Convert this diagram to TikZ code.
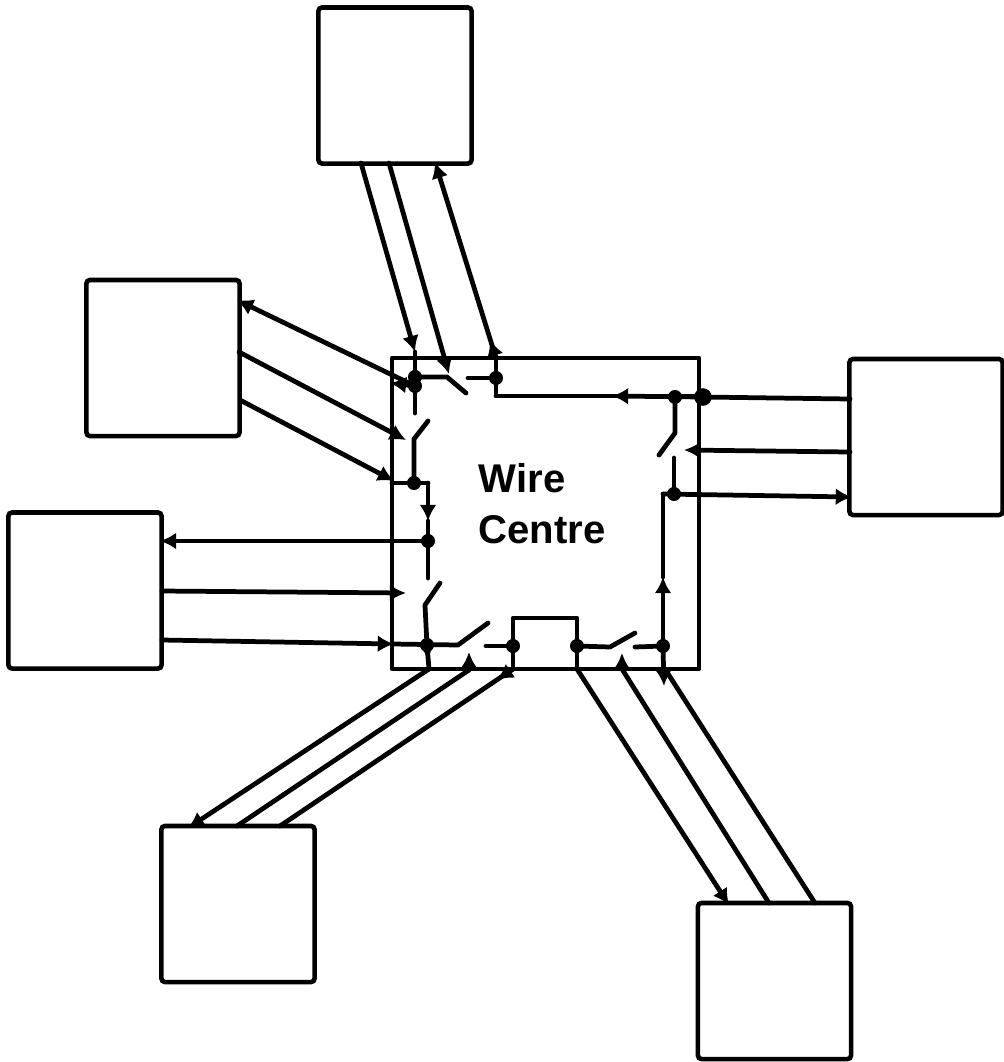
\documentclass[tikz,border=0pt]{standalone}
\usepackage{fontspec}
\setsansfont{Liberation Sans}
\usepackage{tikz}
\usetikzlibrary{arrows.meta}
\tikzset{
  unit/.style={draw, line width=1.3pt, rounded corners=1pt, minimum width=1.53cm, minimum height=1.56cm, inner sep=0pt},
  wire/.style={line width=1.35pt, line cap=round, line join=round},
  tipped/.style={wire, -{Latex[length=4.6pt,width=4.8pt]}},
  joint/.style={circle, fill=black, inner sep=0pt, minimum size=4pt},
  title/.style={font=\sffamily\bfseries\fontsize{11.4pt}{13pt}\selectfont, inner sep=0pt},
}
\begin{document}
\begin{tikzpicture}[x=0.01cm, y=-0.01cm]
            \useasboundingbox (0,0) rectangle (1004,1062);

            % Outer units
            \node[unit] (topunit) at (395,85.5) {};
            \node[unit] (leftup) at (163,358) {};
            \node[unit] (leftlow) at (85,590.5) {};
            \node[unit] (rightunit) at (926,437) {};
            \node[unit] (lowleft) at (238,904) {};
            \node[unit] (lowright) at (774.5,981) {};

            % Wire centre outline
            \coordinate (nw) at (392,358);
            \coordinate (ne) at (699,358);
            \coordinate (se) at (699,669);
            \coordinate (sw) at (392,669);
            \coordinate (stepa) at (496,358);
            \coordinate (stepb) at (496,396);
            \coordinate (stepc) at (699,396);
            \coordinate (notcha) at (513,669);
            \coordinate (notchb) at (513,618);
            \coordinate (notchc) at (577,618);
            \coordinate (notchd) at (577,669);
            \draw[wire] (nw) -- (ne) -- (se) -- (sw) -- cycle;
            \draw[wire] (stepa) -- (stepb) -- (stepc);
            \draw[wire] (notcha) -- (notchb) -- (notchc) -- (notchd);

            \node[title] (wirelabel) at (522,478) {Wire};
            \node[title] (centrelabel) at (542,530) {Centre};

            % Top unit links
            \coordinate (ta) at (361,163);
            \coordinate (tb) at (389,163);
            \coordinate (tc) at (435,162);
            \coordinate (taend) at (415,352);
            \coordinate (tbend) at (449,374);
            \coordinate (tcmid) at (490,340);
            \coordinate (tarm) at (415,377);
            \coordinate (tstop) at (415,413);
            \coordinate (thinge) at (447,377);
            \coordinate (tlever) at (466,393);
            \coordinate (tcontact) at (468,378);
            \coordinate (tjoin) at (496,378);
            \draw[tipped] (ta) -- (taend);
            \draw[wire] (taend) -- (tstop);
            \draw[tipped] (tb) -- (tbend);
            \draw[tipped] (stepa) -- (tc);
            \draw[tipped] (stepa) -- (tcmid);
            \draw[wire] (tarm) -- (thinge) -- (tlever);
            \draw[wire] (tcontact) -- (tjoin);
            \node[joint] (tarmdot) at (tarm) {};
            \node[joint] (tjoindot) at (tjoin) {};

            % Upper left unit links
            \coordinate (ua) at (237,300);
            \coordinate (ub) at (239,352);
            \coordinate (uc) at (240,400);
            \coordinate (uajoin) at (415,386);
            \coordinate (uamid) at (390,383);
            \coordinate (ubend) at (406,440);
            \coordinate (ucend) at (394,481);
            \coordinate (ularm) at (428,421);
            \coordinate (ulbend) at (414,439);
            \coordinate (uljoin) at (414,483);
            \coordinate (ulcorner) at (428,483);
            \coordinate (ulmid) at (428,521);
            \coordinate (ulstop) at (428,578);
            \draw[tipped] (uajoin) -- (ua);
            \draw[tipped] (uajoin) -- (uamid);
            \draw[tipped] (ub) -- (ubend);
            \draw[tipped] (uc) -- (ucend);
            \draw[wire] (ularm) -- (ulbend) -- (uljoin);
            \draw[wire] (392,483) -- (ulcorner);
            \draw[tipped] (ulcorner) -- (ulmid);
            \draw[wire] (ulmid) -- (ulstop);
            \node[joint] (uajoindot) at (uajoin) {};
            \node[joint] (uljoindot) at (uljoin) {};

            % Lower left unit links
            \coordinate (la) at (160,541);
            \coordinate (lb) at (162,591);
            \coordinate (lc) at (162,640);
            \coordinate (lajoin) at (428,541);
            \coordinate (lbend) at (406,593);
            \coordinate (lcend) at (394,644);
            \coordinate (llarm) at (440,583);
            \coordinate (llbend) at (425,605);
            \coordinate (lljoin) at (427,645);
            \coordinate (llhinge) at (458,645);
            \coordinate (lllever) at (488,623);
            \coordinate (llcontact) at (486,646);
            \coordinate (lljoinb) at (513,646);
            \draw[tipped] (lajoin) -- (la);
            \draw[tipped] (lb) -- (lbend);
            \draw[tipped] (lc) -- (lcend);
            \draw[wire] (llarm) -- (llbend) -- (lljoin);
            \draw[wire] (lcend) -- (llhinge) -- (lllever);
            \draw[wire] (llcontact) -- (lljoinb);
            \node[joint] (lajoindot) at (lajoin) {};
            \node[joint] (lljoindot) at (lljoin) {};
            \node[joint] (lljoinbdot) at (lljoinb) {};

            % Bottom left unit links
            \coordinate (ba) at (188,828);
            \coordinate (bb) at (237,826);
            \coordinate (bc) at (280,826);
            \coordinate (bastart) at (429,669);
            \coordinate (bbend) at (469,652);
            \coordinate (bbbend) at (469,670);
            \coordinate (bcin) at (513,669);
            \coordinate (bcmid) at (497,680);
            \draw[wire] (lljoin) -- (bastart);
            \draw[tipped] (bastart) -- (ba);
            \draw[tipped] (lljoin) -- (428,660);
            \draw[wire] (bb) -- (bbbend);
            \draw[tipped] (bbbend) -- (bbend);
            \draw[wire] (bc) -- (bcin);
            \draw[tipped] (bcin) -- (bcmid);

            % Bottom right unit links
            \coordinate (ra) at (729,905);
            \coordinate (rb) at (769,903);
            \coordinate (rc) at (815,903);
            \coordinate (rajoin) at (577,646);
            \coordinate (rbbend) at (622,669);
            \coordinate (rbend) at (622,653);
            \coordinate (rcin) at (665,669);
            \coordinate (rcmid) at (664,686);
            \coordinate (rrjoin) at (663,646);
            \coordinate (rrhinge) at (610,647);
            \coordinate (rrlever) at (635,633);
            \coordinate (rrcontact) at (635,647);
            \draw[tipped] (notchd) -- (ra);
            \draw[wire] (rb) -- (rbbend);
            \draw[tipped] (rbbend) -- (rbend);
            \draw[wire] (rc) -- (rcin);
            \draw[tipped] (rrjoin) -- (rcmid);
            \draw[wire] (rajoin) -- (rrhinge) -- (rrlever);
            \draw[wire] (rrcontact) -- (rrjoin);
            \node[joint] (rajoindot) at (rajoin) {};
            \node[joint] (rrjoindot) at (rrjoin) {};

            % Right unit links
            \coordinate (ea) at (850,399);
            \coordinate (eb) at (850,452);
            \coordinate (ec) at (852,497);
            \coordinate (eajoin) at (703,397);
            \coordinate (eamid) at (612,396);
            \coordinate (eajoinb) at (675,397);
            \coordinate (ebend) at (684,450);
            \coordinate (ecstart) at (663,494);
            \coordinate (ecjoin) at (674,494);
            \coordinate (elever) at (659,455);
            \coordinate (ebendb) at (675,433);
            \coordinate (ecstop) at (674,458);
            \coordinate (evmid) at (663,577);
            \draw[wire] (ea) -- (eajoin);
            \draw[tipped] (eajoin) -- (eamid);
            \draw[wire] (eamid) -- (stepb);
            \draw[tipped] (eb) -- (ebend);
            \draw[tipped] (ecstart) -- (ec);
            \draw[wire] (eajoinb) -- (ebendb) -- (elever);
            \draw[wire] (ecstop) -- (ecjoin);
            \draw[wire] (ecstart) -- (evmid);
            \draw[tipped] (rrjoin) -- (evmid);
            \node[joint, minimum size=5pt] (eajoindot) at (eajoin) {};
            \node[joint] (eajoinbdot) at (eajoinb) {};
            \node[joint] (ecjoindot) at (ecjoin) {};
        \end{tikzpicture}
\end{document}
